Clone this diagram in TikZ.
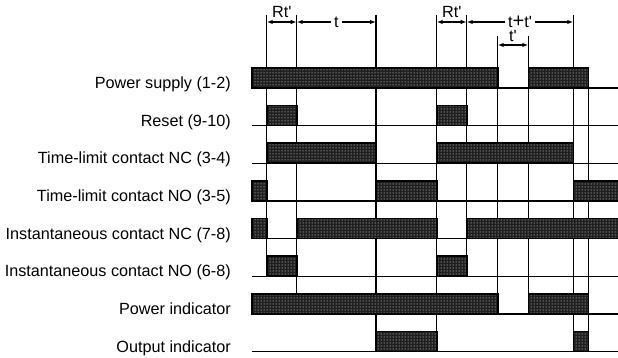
\documentclass[tikz,border=0pt]{standalone}
\usepackage{fontspec}
\newfontfamily\labfont{Liberation Sans}
\usetikzlibrary{patterns,arrows.meta}
\newcommand\lab{\labfont\fontsize{16.2}{19}\selectfont}
% times
\def\tA{266.7}\def\tB{296.7}\def\tC{376}\def\tD{436.7}\def\tE{466.7}
\def\tF{497.7}\def\tG{528.3}\def\tH{573.3}\def\tI{588.5}
\def\xL{252}\def\xR{620}
% row baselines
\def\yA{88}\def\yB{125.6}\def\yC{163.3}\def\yD{200.9}
\def\yE{238.6}\def\yF{276.2}\def\yG{313.8}\def\yH{351.5}
\tikzset{
  sig/.style={line width=1.4pt},
  guide/.style={line width=1.2pt},
  barfill/.style={fill=black!88},
  bardots/.style={pattern=dots,pattern color=white},
  barline/.style={draw=black,line width=1.6pt},
  dim/.style={line width=1.2pt,{Latex[length=6pt,width=4.5pt]}-{Latex[length=6pt,width=4.5pt]}},
  rowlabel/.style={anchor=base east,inner sep=0pt,font=\lab},
  dimlabel/.style={inner sep=0pt,font=\lab},
}
\newcommand\sigon[3]{%
  \fill[barfill] (#1,#3-20) rectangle (#2,#3);
  \fill[bardots] (#1,#3-20) rectangle (#2,#3);
  \draw[barline] (#1,#3-20) rectangle (#2,#3);}
\begin{document}
\begin{tikzpicture}[x=1pt,y=-1pt]
\useasboundingbox (0,0) rectangle (618,358);
% row labels
\node[rowlabel] (l1) at (231,\yA+0.5) {Power supply (1-2)};
\node[rowlabel] (l2) at (231,\yB+0.5) {Reset (9-10)};
\node[rowlabel] (l3) at (231,\yC+0.5) {Time-limit contact NC (3-4)};
\node[rowlabel] (l4) at (231,\yD+0.5) {Time-limit contact NO (3-5)};
\node[rowlabel] (l5) at (231,\yE+0.5) {Instantaneous contact NC (7-8)};
\node[rowlabel] (l6) at (231,\yF+0.5) {Instantaneous contact NO (6-8)};
\node[rowlabel] (l7) at (231,\yG+0.5) {Power indicator};
\node[rowlabel] (l8) at (231,\yH+0.5) {Output indicator};
% guide lines
\draw[guide] (\tA,15) -- (\tA,\yF);
\draw[guide] (\tB,15) -- (\tB,\yG-20);
\draw[guide] (\tC,15) -- (\tC,\yH);
\draw[guide] (\tD,15) -- (\tD,\yH);
\draw[guide] (\tE,15) -- (\tE,\yF);
\draw[guide] (\tF,36) -- (\tF,\yG);
\draw[guide] (\tG,36) -- (\tG,\yG);
\draw[guide] (\tH,15) -- (\tH,\yH);
\draw[guide] (\tI,\yA-20) -- (\tI,\yH);
% baselines
\foreach \y in {\yA,\yB,\yC,\yD,\yE,\yF,\yG,\yH}
  \draw[sig] (\xL,\y) -- (\xR,\y);
% row 1 power supply
\sigon{\xL}{\tF}{\yA}\sigon{\tG}{\tI}{\yA}
% row 2 reset
\sigon{\tA}{\tB}{\yB}\sigon{\tD}{\tE}{\yB}
% row 3 time-limit NC
\sigon{\tA}{\tC}{\yC}\sigon{\tD}{\tH}{\yC}
% row 4 time-limit NO
\sigon{\xL}{\tA}{\yD}\sigon{\tC}{\tD}{\yD}\sigon{\tH}{\xR}{\yD}
% row 5 instantaneous NC
\sigon{\xL}{\tA}{\yE}\sigon{\tB}{\tD}{\yE}\sigon{\tE}{\xR}{\yE}
% row 6 instantaneous NO
\sigon{\tA}{\tB}{\yF}\sigon{\tD}{\tE}{\yF}
% row 7 power indicator
\sigon{\xL}{\tF}{\yG}\sigon{\tG}{\tI}{\yG}
% row 8 output indicator
\sigon{\tC}{\tD}{\yH}\sigon{\tH}{\tI}{\yH}
% dimension arrows
\coordinate (d1) at (\tA,22);
\coordinate (d2) at (\tB,22);
\coordinate (d3) at (\tC,22);
\coordinate (d4) at (\tD,22);
\coordinate (d5) at (\tE,22);
\coordinate (d8) at (\tH,22);
\coordinate (e6) at (\tF,45);
\coordinate (e7) at (\tG,45);
\draw[dim] (d1) -- (d2) node[midway,dimlabel,anchor=base,yshift=4pt] (rt1) {Rt'};
\draw[dim] (d2) -- (d3) node[midway,dimlabel,fill=white,inner xsep=3pt,inner ysep=1pt] (tt) {t};
\draw[dim] (d4) -- (d5) node[midway,dimlabel,anchor=base,yshift=4pt] (rt2) {Rt'};
\draw[dim] (d5) -- (d8) node[midway,dimlabel,fill=white,inner xsep=3pt,inner ysep=1pt] (ttp) {t{\fontsize{20}{20}\selectfont+}t'};
\draw[dim] (e6) -- (e7) node[midway,dimlabel,anchor=base,yshift=3pt] (tp) {t'};
\end{tikzpicture}
\end{document}
